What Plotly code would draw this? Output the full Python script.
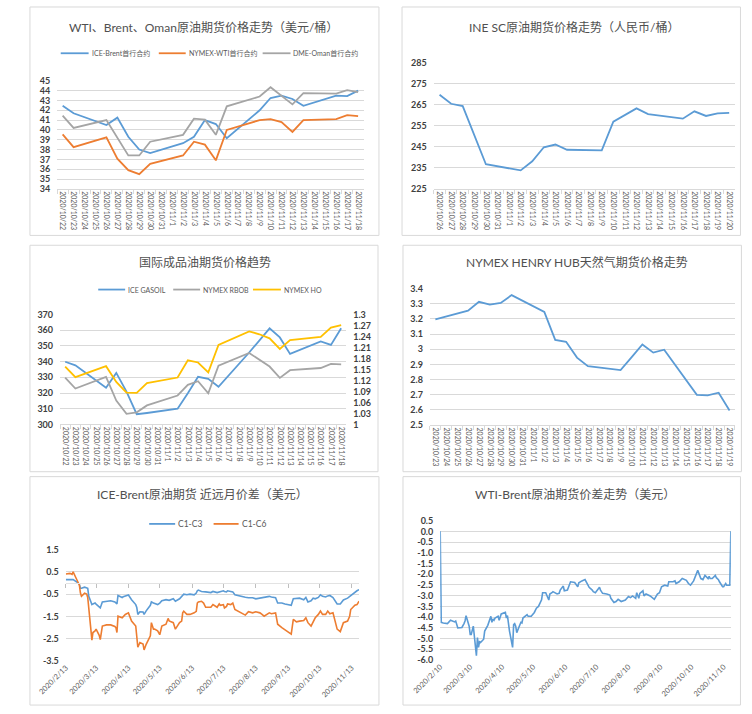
import plotly.graph_objects as go

W, H = 752, 714
FONT = "Lato, 'Noto Sans CJK SC', sans-serif"
BLUE, ORANGE, GRAY, YELLOW = "#5B9BD5", "#ED7D31", "#A5A5A5", "#FFC000"
GRID = "#D9D9D9"
TXT = "#404040"

def fx(p):
    return p / W

def fy(p):
    return 1 - p / H

N = None

# ---------------- Panel 1: WTI / Brent / Oman ----------------
p1_title = "WTI、Brent、Oman原油期货价格走势（美元/桶）"
p1_cats = ["2020/10/22", "2020/10/23", "2020/10/24", "2020/10/25", "2020/10/26", "2020/10/27",
           "2020/10/28", "2020/10/29", "2020/10/30", "2020/10/31", "2020/11/1", "2020/11/2",
           "2020/11/3", "2020/11/4", "2020/11/5", "2020/11/6", "2020/11/7", "2020/11/8",
           "2020/11/9", "2020/11/10", "2020/11/11", "2020/11/12", "2020/11/13", "2020/11/14",
           "2020/11/15", "2020/11/16", "2020/11/17", "2020/11/18"]
p1_names = ["ICE-Brent首行合约", "NYMEX-WTI首行合约", "DME-Oman首行合约"]
p1_brent = [42.46, 41.70, N, N, 40.50, 41.25, 39.30, 38.00, 37.65, N, N, 38.65, 39.30, 41.00,
            40.60, 39.15, N, N, 42.00, 43.25, 43.50, 43.15, 42.45, N, N, 43.50, 43.45, 44.00]
p1_wti = [39.55, 38.25, N, N, 39.25, 37.07, 35.90, 35.50, 36.55, N, N, 37.40, 38.80, 38.50,
          36.90, 40.00, N, N, 41.00, 41.10, 40.80, 39.80, 41.00, N, N, 41.10, 41.50, 41.40]
p1_oman = [41.45, 40.20, N, N, 41.00, 39.25, 37.40, 37.40, 38.80, N, N, 39.50, 41.15, 41.05,
           39.50, 42.40, N, N, 43.40, 44.35, 43.50, 42.60, 43.75, N, N, 43.70, 44.05, 43.85]
p1_yticks = [34, 35, 36, 37, 38, 39, 40, 41, 42, 43, 44, 45]

# ---------------- Panel 2: INE SC ----------------
p2_title = "INE SC原油期货价格走势（人民币/桶）"
p2_cats = ["2020/10/26", "2020/10/27", "2020/10/28", "2020/10/29", "2020/10/30", "2020/10/31",
           "2020/11/1", "2020/11/2", "2020/11/3", "2020/11/4", "2020/11/5", "2020/11/6",
           "2020/11/7", "2020/11/8", "2020/11/9", "2020/11/10", "2020/11/11", "2020/11/12",
           "2020/11/13", "2020/11/14", "2020/11/15", "2020/11/16", "2020/11/17", "2020/11/18",
           "2020/11/19", "2020/11/20"]
p2_sc = [269.8, 265.5, 264.4, 251.0, 236.7, N, N, 233.8, 238.1, 244.8, 246.1, 243.6, N, N,
         243.3, 257.0, 260.0, 263.3, 260.6, N, N, 258.4, 261.9, 259.7, 260.9, 261.2]
p2_yticks = [225, 235, 245, 255, 265, 275, 285]

# ---------------- Panel 3: products ----------------
p3_title = "国际成品油期货价格趋势"
p3_cats = p1_cats
p3_names = ["ICE GASOIL", "NYMEX RBOB", "NYMEX HO"]
p3_gasoil = [339.9, 337.6, N, N, 323.4, 332.8, 320.9, 306.5, 307.3, N, N, 310.0, 319.9, 330.3,
             329.0, 324.0, N, N, 345.8, 353.3, 361.2, 355.4, 344.9, N, N, 352.9, 350.6, 361.2]
p3_rbob = [1.128, 1.098, N, N, 1.130, 1.065, 1.029, 1.033, 1.052, N, N, 1.079, 1.108, 1.118,
           1.085, 1.160, N, N, 1.195, 1.177, 1.158, 1.127, 1.148, N, N, 1.154, 1.165, 1.164]
p3_ho = [1.158, 1.129, N, N, 1.159, 1.116, 1.087, 1.086, 1.113, N, N, 1.128, 1.175, 1.169,
         1.142, 1.217, N, N, 1.254, 1.246, 1.235, 1.206, 1.230, N, N, 1.239, 1.264, 1.271]
p3_yticks = [300, 310, 320, 330, 340, 350, 360, 370]
p3_y2ticks = [1, 1.03, 1.06, 1.09, 1.12, 1.15, 1.18, 1.21, 1.24, 1.27, 1.3]
p3_y2text = ["1", "1.03", "1.06", "1.09", "1.12", "1.15", "1.18", "1.21", "1.24", "1.27", "1.3"]

# ---------------- Panel 4: Henry Hub ----------------
p4_title = "NYMEX HENRY HUB天然气期货价格走势"
p4_cats = ["2020/10/23", "2020/10/24", "2020/10/25", "2020/10/26", "2020/10/27", "2020/10/28",
           "2020/10/29", "2020/10/30", "2020/10/31", "2020/11/1", "2020/11/2", "2020/11/3",
           "2020/11/4", "2020/11/5", "2020/11/6", "2020/11/7", "2020/11/8", "2020/11/9",
           "2020/11/10", "2020/11/11", "2020/11/12", "2020/11/13", "2020/11/14", "2020/11/15",
           "2020/11/16", "2020/11/17", "2020/11/18", "2020/11/19"]
p4_hh = [3.197, N, N, 3.255, 3.313, 3.294, 3.305, 3.357, N, N, 3.246, 3.062, 3.049, 2.945,
         2.889, N, N, 2.863, 2.947, 3.032, 2.978, 2.997, N, N, 2.700, 2.696, 2.714, 2.597]
p4_yticks = [2.5, 2.6, 2.7, 2.8, 2.9, 3.0, 3.1, 3.2, 3.3, 3.4]
p4_ytext = ["2.5", "2.6", "2.7", "2.8", "2.9", "3", "3.1", "3.2", "3.3", "3.4"]

# ---------------- Panel 5: Brent spreads ----------------
p5_title = "ICE-Brent原油期货 近远月价差（美元）"
p5_names = ["C1-C3", "C1-C6"]
p5_dates = [
    "2020-02-13", "2020-02-17", "2020-02-19", "2020-02-20", "2020-02-24", "2020-02-26", "2020-02-27", "2020-02-28",
    "2020-03-02", "2020-03-04", "2020-03-05", "2020-03-06", "2020-03-09", "2020-03-10", "2020-03-12", "2020-03-13",
    "2020-03-16", "2020-03-17", "2020-03-19", "2020-03-23", "2020-03-27", "2020-03-31",
    "2020-04-01", "2020-04-02", "2020-04-03", "2020-04-07", "2020-04-08", "2020-04-10", "2020-04-13", "2020-04-16",
    "2020-04-20", "2020-04-21", "2020-04-22", "2020-04-24", "2020-04-27", "2020-04-28", "2020-04-30",
    "2020-05-04", "2020-05-05", "2020-05-07", "2020-05-08", "2020-05-11", "2020-05-13", "2020-05-15", "2020-05-19",
    "2020-05-21", "2020-05-22", "2020-05-26", "2020-05-28",
    "2020-06-01", "2020-06-03", "2020-06-04", "2020-06-05", "2020-06-08", "2020-06-11", "2020-06-15", "2020-06-17",
    "2020-06-18", "2020-06-19", "2020-06-22", "2020-06-24", "2020-06-26",
    "2020-07-01", "2020-07-03", "2020-07-07", "2020-07-09", "2020-07-10", "2020-07-13", "2020-07-14", "2020-07-16",
    "2020-07-17", "2020-07-20", "2020-07-22", "2020-07-24", "2020-07-27", "2020-07-30",
    "2020-08-03", "2020-08-06", "2020-08-10", "2020-08-13", "2020-08-17", "2020-08-19", "2020-08-21", "2020-08-26",
    "2020-08-28",
    "2020-09-01", "2020-09-03", "2020-09-07", "2020-09-10", "2020-09-14", "2020-09-16", "2020-09-18", "2020-09-21",
    "2020-09-24", "2020-09-28", "2020-09-30",
    "2020-10-02", "2020-10-05", "2020-10-07", "2020-10-09", "2020-10-12", "2020-10-14", "2020-10-16", "2020-10-19",
    "2020-10-21", "2020-10-23", "2020-10-26", "2020-10-28", "2020-10-30",
    "2020-11-02", "2020-11-04", "2020-11-05", "2020-11-09", "2020-11-11", "2020-11-12", "2020-11-16", "2020-11-18",
    "2020-11-20"]
p5_c1c3 = [
    0.15, 0.15, 0.16, 0.15, 0.03, -0.06, -0.24, -0.24,
    -0.19, -0.21, -0.24, -0.60, -0.97, -0.94, -0.90, -0.95,
    -1.05, -1.12, -0.85, -0.82, -0.80, -0.85,
    -0.88, -0.94, -0.56, -0.65, -0.62, -0.60, -0.54, -0.75,
    -0.97, -1.10, -1.41, -1.29, -1.30, -1.41, -1.25,
    -1.00, -0.85, -0.90, -0.92, -0.97, -0.90, -0.80, -0.75,
    -0.78, -0.78, -0.71, -0.82,
    -0.71, -0.60, -0.55, -0.50, -0.53, -0.50, -0.53, -0.45,
    -0.35, -0.32, -0.38, -0.40, -0.40,
    -0.43, -0.38, -0.43, -0.40, -0.42, -0.35, -0.38, -0.40,
    -0.35, -0.38, -0.40, -0.53, -0.57, -0.60,
    -0.64, -0.66, -0.66, -0.71, -0.68, -0.68, -0.65, -0.60,
    -0.63,
    -0.66, -0.90, -0.90, -0.94, -1.00, -1.00, -0.71, -0.71,
    -0.68, -0.75, -0.65,
    -0.85, -0.80, -0.68, -0.71, -0.65, -0.53, -0.60, -0.63,
    -0.58, -0.56, -0.65, -0.79, -0.94,
    -0.94, -0.85, -0.76, -0.68, -0.60, -0.55, -0.41, -0.35,
    -0.30]
p5_c1c6 = [
    0.40, 0.43, 0.38, 0.50, 0.10, -0.10, -0.45, -0.60,
    -0.46, -0.50, -0.65, -1.20, -2.56, -2.22, -2.15, -2.07,
    -2.35, -2.54, -1.93, -1.88, -1.88, -1.95,
    -2.00, -2.22, -1.49, -1.56, -1.49, -1.41, -1.34, -1.71,
    -1.93, -2.44, -2.88, -2.67, -2.74, -3.00, -2.75,
    -2.37, -1.78, -2.07, -2.07, -2.15, -2.32, -1.93, -1.85,
    -1.59, -1.70, -1.78, -2.07,
    -1.78, -1.71, -1.34, -1.27, -1.41, -1.41, -1.34, -1.27,
    -0.90, -0.85, -0.82, -0.90, -1.09,
    -1.09, -0.97, -1.09, -0.94, -1.00, -0.97, -1.12, -1.05,
    -0.94, -0.97, -0.90, -1.19, -1.26, -1.34,
    -1.44, -1.29, -1.34, -1.29, -1.34, -1.41, -1.49, -1.34,
    -1.38,
    -1.34, -1.85, -2.00, -2.10, -2.24, -2.29, -1.63, -1.74,
    -1.71, -1.68, -1.56,
    -1.78, -1.93, -1.74, -1.56, -1.41, -1.26, -1.41, -1.41,
    -1.26, -1.38, -1.34, -1.71, -2.07,
    -2.18, -1.96, -1.78, -1.71, -1.49, -1.19, -1.00, -0.97,
    -0.82]
p5_yticks = [-3.5, -2.5, -1.5, -0.5, 0.5, 1.5]
p5_ytext = ["-3.5", "-2.5", "-1.5", "-0.5", "0.5", "1.5"]
p5_xticks = ["2020-02-13", "2020-03-13", "2020-04-13", "2020-05-13", "2020-06-13",
             "2020-07-13", "2020-08-13", "2020-09-13", "2020-10-13", "2020-11-13"]
p5_xtext = ["2020/2/13", "2020/3/13", "2020/4/13", "2020/5/13", "2020/6/13",
            "2020/7/13", "2020/8/13", "2020/9/13", "2020/10/13", "2020/11/13"]

# ---------------- Panel 6: WTI-Brent ----------------
p6_title = "WTI-Brent原油期货价差走势（美元）"
p6_dates = [
    "2020-02-10", "2020-02-11", "2020-02-13", "2020-02-17", "2020-02-20", "2020-02-24", "2020-02-25", "2020-02-27",
    "2020-03-02", "2020-03-03", "2020-03-04", "2020-03-05", "2020-03-06", "2020-03-09", "2020-03-10", "2020-03-11",
    "2020-03-12", "2020-03-13", "2020-03-16", "2020-03-17", "2020-03-18", "2020-03-19", "2020-03-20", "2020-03-23",
    "2020-03-24", "2020-03-26", "2020-03-27", "2020-03-30", "2020-03-31",
    "2020-04-01", "2020-04-02", "2020-04-03", "2020-04-06", "2020-04-07", "2020-04-08", "2020-04-09", "2020-04-13",
    "2020-04-14", "2020-04-15", "2020-04-17", "2020-04-20", "2020-04-21", "2020-04-22", "2020-04-23", "2020-04-24",
    "2020-04-27", "2020-04-28", "2020-04-29", "2020-04-30",
    "2020-05-04", "2020-05-05", "2020-05-08", "2020-05-11", "2020-05-13", "2020-05-15", "2020-05-18", "2020-05-19",
    "2020-05-21", "2020-05-22", "2020-05-25", "2020-05-26", "2020-05-28", "2020-05-29",
    "2020-06-02", "2020-06-04", "2020-06-05", "2020-06-08", "2020-06-09", "2020-06-12", "2020-06-15", "2020-06-17",
    "2020-06-19", "2020-06-22", "2020-06-23", "2020-06-26", "2020-06-29",
    "2020-07-01", "2020-07-03", "2020-07-06", "2020-07-07", "2020-07-09", "2020-07-13", "2020-07-14", "2020-07-16",
    "2020-07-20", "2020-07-23", "2020-07-24", "2020-07-27", "2020-07-29", "2020-07-31",
    "2020-08-03", "2020-08-06", "2020-08-07", "2020-08-10", "2020-08-12", "2020-08-14", "2020-08-17", "2020-08-18",
    "2020-08-20", "2020-08-21", "2020-08-24", "2020-08-25", "2020-08-27", "2020-08-31",
    "2020-09-02", "2020-09-04", "2020-09-07", "2020-09-09", "2020-09-11", "2020-09-14", "2020-09-17", "2020-09-18",
    "2020-09-22", "2020-09-24", "2020-09-25", "2020-09-28",
    "2020-10-01", "2020-10-05", "2020-10-07", "2020-10-09", "2020-10-12", "2020-10-14", "2020-10-16", "2020-10-19",
    "2020-10-21", "2020-10-23", "2020-10-26", "2020-10-27", "2020-10-28", "2020-10-30",
    "2020-11-02", "2020-11-03", "2020-11-05", "2020-11-06", "2020-11-09", "2020-11-10", "2020-11-11", "2020-11-12",
    "2020-11-13", "2020-11-16", "2020-11-17"]
p6_spread = [
    0.00, -4.24, -4.27, -4.30, -4.14, -4.22, -4.18, -4.50,
    -4.48, -4.34, -4.30, -4.18, -3.93, -4.42, -4.80, -4.80,
    -4.65, -4.42, -5.80, -4.95, -5.41, -5.15, -5.18, -5.03,
    -4.65, -4.46, -4.38, -3.96, -4.24,
    -4.08, -4.14, -4.04, -3.96, -4.14, -3.93, -3.85, -3.78,
    -4.04, -3.93, -4.65, -5.41, -4.35, -4.30, -4.42, -4.72,
    -4.42, -4.24, -4.27, -4.04,
    -3.88, -3.96, -3.96, -3.78, -3.58, -3.50, -3.19, -2.86,
    -2.86, -2.86, -3.20, -2.92, -2.86, -2.81,
    -2.92, -2.89, -2.74, -2.55, -2.77, -2.74, -2.35, -2.35,
    -2.38, -2.58, -2.40, -2.31, -2.25,
    -2.43, -2.61, -2.74, -2.81, -2.86, -2.61, -2.74, -2.89,
    -2.92, -2.97, -3.12, -3.32, -3.27, -3.17,
    -3.27, -3.22, -3.20, -3.04, -3.09, -3.01, -3.12, -2.86,
    -3.12, -2.89, -2.77, -3.01, -2.92, -3.01,
    -3.07, -3.17, -2.92, -2.86, -2.58, -2.51, -2.55, -2.35,
    -2.35, -2.31, -2.43, -2.35,
    -2.20, -2.28, -2.43, -2.51, -2.31, -2.05, -1.82, -2.20,
    -2.25, -2.05, -2.20, -2.10, -2.20, -2.20,
    -2.05, -2.16, -2.25, -2.35, -2.58, -2.58, -2.51, -2.43,
    -2.51, -2.51, 0.00]
p6_yticks = [-6.0, -5.5, -5.0, -4.5, -4.0, -3.5, -3.0, -2.5, -2.0, -1.5, -1.0, -0.5, 0.0, 0.5]
p6_ytext = ["-6.0", "-5.5", "-5.0", "-4.5", "-4.0", "-3.5", "-3.0", "-2.5", "-2.0", "-1.5",
            "-1.0", "-0.5", "0.0", "0.5"]
p6_xticks = ["2020-02-10", "2020-03-10", "2020-04-10", "2020-05-10", "2020-06-10",
             "2020-07-10", "2020-08-10", "2020-09-10", "2020-10-10", "2020-11-10"]
p6_xtext = ["2020/2/10", "2020/3/10", "2020/4/10", "2020/5/10", "2020/6/10",
            "2020/7/10", "2020/8/10", "2020/9/10", "2020/10/10", "2020/11/10"]

# ======================================================================
fig = go.Figure()

def line(x, y, color, xa, ya, name, width=1.8):
    fig.add_trace(go.Scatter(x=x, y=y, mode="lines", name=name, xaxis=xa, yaxis=ya,
                             connectgaps=True, showlegend=False,
                             line=dict(color=color, width=width)))

line(p1_cats, p1_brent, BLUE, "x", "y", p1_names[0])
line(p1_cats, p1_wti, ORANGE, "x", "y", p1_names[1])
line(p1_cats, p1_oman, GRAY, "x", "y", p1_names[2])
line(p2_cats, p2_sc, BLUE, "x2", "y2", "INE SC")
line(p3_cats, p3_gasoil, BLUE, "x3", "y3", p3_names[0])
line(p3_cats, p3_rbob, GRAY, "x3", "y7", p3_names[1])
line(p3_cats, p3_ho, YELLOW, "x3", "y7", p3_names[2])
line(p4_cats, p4_hh, BLUE, "x4", "y4", "HENRY HUB")
line(p5_dates, p5_c1c3, BLUE, "x5", "y5", p5_names[0], 1.6)
line(p5_dates, p5_c1c6, ORANGE, "x5", "y5", p5_names[1], 1.6)
line(p6_dates, p6_spread, BLUE, "x6", "y6", "WTI-Brent", 1.6)
# invisible trace carrying the tick-mark axis of panel 5
fig.add_trace(go.Scatter(x=[p5_dates[0]], y=[None], xaxis="x7", yaxis="y5",
                         showlegend=False, hoverinfo="skip"))

tickfont_x = dict(family=FONT, size=7, color="#595959")
tickfont_xd = dict(family=FONT, size=7.5, color="#595959")
tickfont_y = dict(family=FONT, size=9, color=TXT, weight="bold")

def cat_x(domain, n):
    return dict(domain=[fx(domain[0]), fx(domain[1])], type="category", range=[-0.5, n - 0.5],
                tickmode="linear", dtick=1, tick0=0, tickangle=90, tickfont=tickfont_x,
                ticks="outside", tickson="boundaries", ticklen=4, tickcolor=GRID,
                showline=True, linecolor=GRID, linewidth=1, showgrid=False, zeroline=False,
                fixedrange=True)

def val_y(domain, rng, tv, tt, anchor):
    return dict(domain=[fy(domain[1]), fy(domain[0])], range=rng, tickmode="array",
                tickvals=tv, ticktext=tt, tickfont=tickfont_y, showgrid=True,
                gridcolor=GRID, gridwidth=1, zeroline=False, showline=False, ticks="",
                ticklabelstandoff=6, anchor=anchor, fixedrange=True)

def date_x(domain, rng, tv, tt):
    return dict(domain=[fx(domain[0]), fx(domain[1])], type="date", range=rng,
                tickmode="array", tickvals=tv, ticktext=tt, tickangle=-45, tickfont=tickfont_xd,
                showgrid=False, zeroline=False, showline=False, ticks="", fixedrange=True)

p5_zero_py = 552 + 1.5 * (665.3 - 552) / 5.0

fig.update_layout(
    width=W, height=H, autosize=False,
    margin=dict(l=0, r=0, t=0, b=0),
    paper_bgcolor="white", plot_bgcolor="white",
    font=dict(family=FONT, color=TXT),
    xaxis=dict(cat_x((29.3, 348), len(p1_cats)), anchor="y"),
    yaxis=val_y((76, 185.7), [34, 45], p1_yticks, [str(v) for v in p1_yticks], "x"),
    xaxis2=dict(cat_x((421, 734.3), len(p2_cats)), anchor="y2"),
    yaxis2=val_y((57.7, 185.7), [225, 285], p2_yticks, [str(v) for v in p2_yticks], "x2"),
    xaxis3=dict(cat_x((32.3, 330), len(p3_cats)), anchor="y3"),
    yaxis3=val_y((313.3, 425), [300, 370], p3_yticks, [str(v) for v in p3_yticks], "x3"),
    yaxis7=dict(overlaying="y3", side="right", anchor="x3", range=[1, 1.3], tickmode="array",
                tickvals=p3_y2ticks, ticktext=p3_y2text, tickfont=tickfont_y, showgrid=False,
                zeroline=False, showline=False, ticks="", ticklabelstandoff=6, fixedrange=True),
    xaxis4=dict(cat_x((417, 734.3), len(p4_cats)), anchor="y4"),
    yaxis4=val_y((287, 425.7), [2.5, 3.4], p4_yticks, p4_ytext, "x4"),
    xaxis5=dict(date_x((38.3, 343.3), ["2020-02-13", "2020-11-20"], p5_xticks, p5_xtext),
                anchor="y5"),
    yaxis5=val_y((552, 665.3), [-3.5, 1.5], p5_yticks, p5_ytext, "x5"),
    xaxis7=dict(overlaying="x5", anchor="free", position=fy(p5_zero_py), type="date",
                range=["2020-02-13", "2020-11-20"], tickmode="array", tickvals=p5_xticks,
                showticklabels=False, ticks="outside", ticklen=4, tickcolor="#BFBFBF",
                showgrid=False, zeroline=False, showline=True, linecolor="#E3E3E3",
                linewidth=1, fixedrange=True),
    xaxis6=dict(date_x((427.7, 730), ["2020-02-10", "2020-11-17"], p6_xticks, p6_xtext),
                anchor="y6"),
    yaxis6=val_y((522.7, 664.3), [-6.0, 0.5], p6_yticks, p6_ytext, "x6"),
)

shapes = []
annotations = []

# panel frames
for (x0, y0, x1, y1) in [(1, 1, 364, 233), (388, 1, 740, 233), (1, 243, 363, 473),
                         (389, 243, 741, 473), (1, 478, 364, 710), (389, 478, 740, 710)]:
    shapes.append(dict(type="rect", xref="paper", yref="paper", x0=fx(x0), x1=fx(x1),
                       y0=fy(y1), y1=fy(y0), line=dict(color=GRID, width=1),
                       fillcolor="rgba(0,0,0,0)", layer="below"))

# titles
for text, cx, cy in [(p1_title, 181, 22), (p2_title, 567, 22), (p3_title, 183, 261),
                     (p4_title, 570, 261), (p5_title, 180, 496), (p6_title, 568, 496)]:
    annotations.append(dict(text=text, x=fx(cx), y=fy(cy), xref="paper", yref="paper",
                            xanchor="center", yanchor="middle", showarrow=False,
                            font=dict(family=FONT, size=12, color="#505050")))

def legend_item(x0, x1, y, color, text, size=7):
    shapes.append(dict(type="line", xref="paper", yref="paper", x0=fx(x0), x1=fx(x1),
                       y0=fy(y), y1=fy(y), line=dict(color=color, width=1.8)))
    annotations.append(dict(text=text, x=fx(x1 + 1), y=fy(y), xref="paper", yref="paper",
                            xanchor="left", yanchor="middle", showarrow=False,
                            font=dict(family=FONT, size=size, color="#595959")))

legend_item(33, 62, 48, BLUE, p1_names[0])
legend_item(135, 163, 48, ORANGE, p1_names[1])
legend_item(243, 272, 48, GRAY, p1_names[2])
legend_item(72, 100, 288, BLUE, p3_names[0])
legend_item(150, 178, 288, GRAY, p3_names[1])
legend_item(233, 262, 288, YELLOW, p3_names[2])
legend_item(125, 152, 526, BLUE, p5_names[0], 8.5)
legend_item(192, 218, 526, ORANGE, p5_names[1], 8.5)

fig.update_layout(shapes=shapes, annotations=annotations)

fig.write_html("out.html", config={"displayModeBar": False},
               post_script="document.body.style.margin='0px';"
                           "document.body.style.overflow='hidden';")
